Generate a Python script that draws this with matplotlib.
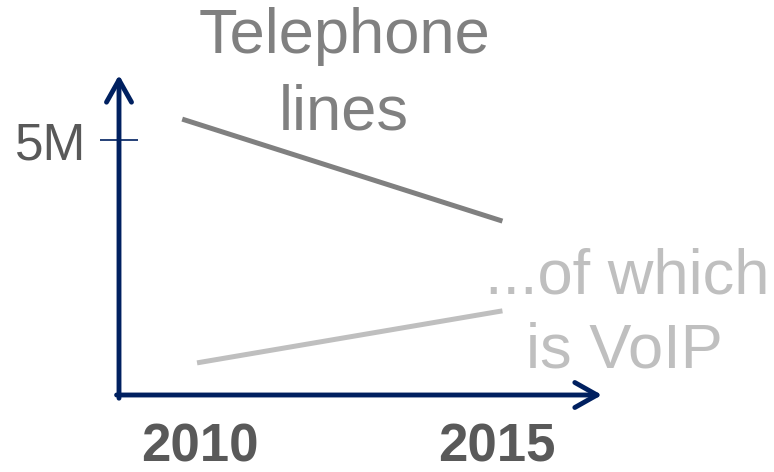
import matplotlib.pyplot as plt

plt.rcParams['font.family'] = ['Liberation Sans', 'DejaVu Sans']

# Data (millions of lines)
years_phone = [2009.7, 2015.1]
phone_lines = [5.41, 3.41]
years_voip = [2009.95, 2015.1]
voip_lines = [0.63, 1.65]

xticks = [2010, 2015]
xtick_labels = ["2010", "2015"]
yticks = [5]
ytick_labels = ["5M"]

navy = "#002060"

fig = plt.figure(figsize=(7.74, 4.72), dpi=100)
W, H = 774, 472
# axes box: corner at (119, 395) px, arrow tips at x=602 / y=75
ax = fig.add_axes([119 / W, (H - 395) / H, (602 - 119) / W, (395 - 75) / H])

ax.plot(years_phone, phone_lines, color="#808080", lw=3.6, solid_capstyle="butt")
ax.plot(years_voip, voip_lines, color="#bfbfbf", lw=3.6, solid_capstyle="butt")

ax.set_xlim(2008.634, 2016.779)
ax.set_ylim(0, 6.275)

for s in ax.spines.values():
    s.set_visible(False)

# axes with arrow heads
arrow = dict(arrowstyle="->,head_length=1.6,head_width=0.9", color=navy, lw=3.5,
             capstyle="round", joinstyle="round", shrinkA=0, shrinkB=0)
ax.annotate("", xy=(1, 0), xytext=(-0.005, 0), xycoords="axes fraction",
            arrowprops=arrow, annotation_clip=False)
ax.annotate("", xy=(0, 1), xytext=(0, -0.01), xycoords="axes fraction",
            arrowprops=arrow, annotation_clip=False)

ax.set_xticks(xticks)
ax.set_xticklabels(xtick_labels, fontsize=38, fontweight="bold", color="#595959")
ax.tick_params(axis="x", length=0, pad=20)

ax.set_yticks(yticks)
ax.set_yticklabels(ytick_labels, fontsize=37, color="#595959")
ax.tick_params(axis="y", direction="inout", length=27, width=1.2, color=navy, pad=10)

# series labels
fig.text(344 / W, (H - 53) / H, "Telephone", fontsize=45.5, color="#808080",
         ha="center", va="baseline")
fig.text(344 / W, (H - 129) / H, "lines", fontsize=45.5, color="#808080",
         ha="center", va="baseline")
fig.text(627 / W, (H - 293) / H, "...of which", fontsize=45.5, color="#bfbfbf",
         ha="center", va="baseline")
fig.text(624 / W, (H - 368) / H, "is VoIP", fontsize=45.5, color="#bfbfbf",
         ha="center", va="baseline")

plt.savefig("out.png", dpi=100)
